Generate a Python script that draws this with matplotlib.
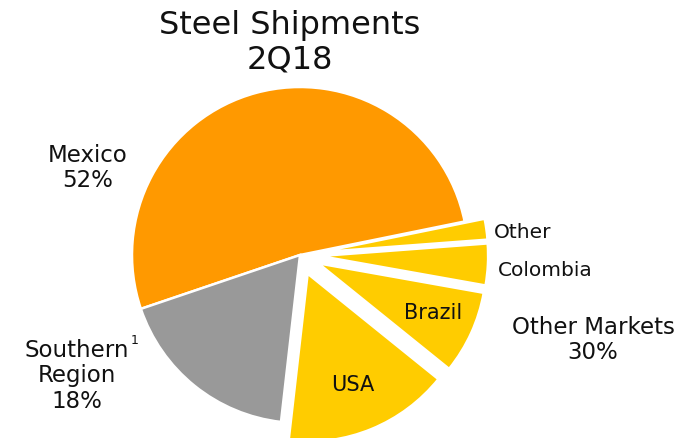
import matplotlib
matplotlib.use('Agg')
import matplotlib.pyplot as plt

# slices, in the order they are drawn (counter-clockwise)
segments = ['Mexico', 'Southern Region', 'USA', 'Brazil', 'Colombia', 'Other']
shares = [52, 18, 16, 8, 4, 2]
colors = ['#FF9900', '#999999', '#FFCC00', '#FFCC00', '#FFCC00', '#FFCC00']
pulled_out = [0, 0, 1, 1, 1, 1]  # the "Other Markets" group is pulled out

W, H = 694, 439
R = 168
fig = plt.figure(figsize=(W / 100, H / 100), dpi=100)
ax = fig.add_axes([0, 0, 1, 1])

# explode is in data units here (axes are in pixels)
ax.pie(shares, colors=colors, explode=[0.12 * R * p for p in pulled_out],
       startangle=11.5, radius=R, center=(300, H - 256), counterclock=True,
       wedgeprops=dict(edgecolor='white', linewidth=1.8))
ax.set_xlim(0, W)
ax.set_ylim(0, H)
ax.set_aspect('equal')
ax.axis('off')


def label(px, py, s, size, **kw):
    ax.text(px, H - py, s, fontsize=size, ha='center', va='center',
            color='#111111', linespacing=1.15, **kw)


label(290, 43, 'Steel Shipments\n2Q18', 23)
label(88, 168, 'Mexico\n52%', 16.5)
label(77, 376, 'Southern\nRegion\n18%', 16.5)
ax.text(135, H - 340, '1', fontsize=9, ha='center', va='center', color='#111111')
label(593, 340, 'Other Markets\n30%', 16.5)
label(523, 232, 'Other', 14.5)
label(545, 270, 'Colombia', 14.5)
label(433, 313, 'Brazil', 15)
label(353, 385, 'USA', 15)

fig.savefig('out.png', dpi=100)
